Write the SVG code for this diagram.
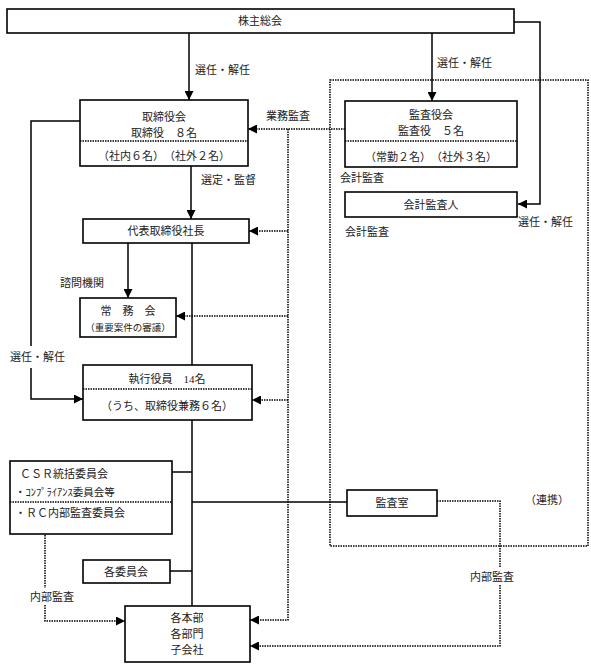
<svg xmlns="http://www.w3.org/2000/svg" width="591" height="668" viewBox="0 0 591 668">
<style>
text{font-family:"Liberation Serif","Noto Sans CJK JP",serif;font-size:11px;fill:#222}
.m{text-anchor:middle}
.s{font-size:9.5px}
.box{fill:#fff;stroke:#000;stroke-width:1.6}
.sep{stroke:#000;stroke-width:1.3;stroke-dasharray:1.5,1;fill:none}
.ln{stroke:#000;stroke-width:1.5;fill:none}
.dt{stroke:#000;stroke-width:1.5;stroke-dasharray:1.5,1;fill:none}
</style>
<defs>
<marker id="ah" viewBox="0 0 10 10" refX="10" refY="5" markerWidth="9" markerHeight="9" markerUnits="userSpaceOnUse" orient="auto"><path d="M0,0 L10,5 L0,10 z" fill="#000"/></marker>
</defs>
<rect x="330" y="80" width="258" height="466" class="dt"/>
<g id="connectors">
<path class="ln" d="M189,33 V100" marker-end="url(#ah)"/>
<path class="ln" d="M432,33 V101" marker-end="url(#ah)"/>
<path class="ln" d="M514,22 H540 V204 H518" marker-end="url(#ah)"/>
<path class="ln" d="M191,166 V219" marker-end="url(#ah)"/>
<path class="ln" d="M128,243 V298" marker-end="url(#ah)"/>
<path class="ln" d="M80,121 H31 V346"/>
<path class="ln" d="M31,368 V399 H83" marker-end="url(#ah)"/>
<path class="ln" d="M192,243 V365"/>
<path class="ln" d="M192,420 V606"/>
<path class="ln" d="M172,472 H192"/>
<path class="ln" d="M192,502 H347"/>
<path class="ln" d="M170,571 H192"/>
<path class="dt" d="M345,129 H248" marker-end="url(#ah)"/>
<path class="dt" d="M288,129 V620 H250" marker-end="url(#ah)"/>
<path class="dt" d="M288,231 H249" marker-end="url(#ah)"/>
<path class="dt" d="M288,316 H176" marker-end="url(#ah)"/>
<path class="dt" d="M288,400 H252" marker-end="url(#ah)"/>
<path class="dt" d="M45,535 V588"/>
<path class="dt" d="M45,605 V621 H125" marker-end="url(#ah)"/>
<path class="dt" d="M437,501 H500 V568"/>
<path class="dt" d="M500,585 V646 H250" marker-end="url(#ah)"/>
</g>
<g id="labels">
<text x="195" y="74">選任・解任</text>
<text x="437" y="67">選任・解任</text>
<text x="266" y="120">業務監査</text>
<text x="201" y="184">選定・監督</text>
<text x="60" y="287">諮問機関</text>
<text x="10" y="361">選任・解任</text>
<text x="340" y="182">会計監査</text>
<text x="345" y="236">会計監査</text>
<text x="518" y="226">選任・解任</text>
<text x="525" y="504">（連携）</text>
<text x="30" y="601">内部監査</text>
<text x="470" y="581">内部監査</text>
</g>
<g id="shareholders">
<rect x="7" y="9" width="507" height="24" class="box"/>
<text x="260" y="25" class="m">株主総会</text>
</g>
<g id="board">
<rect x="80" y="100" width="168" height="66" class="box"/>
<line x1="80" y1="141" x2="248" y2="141" class="sep"/>
<text x="164" y="121" class="m">取締役会</text>
<text x="164" y="137" class="m">取締役　８名</text>
<text x="164" y="160" class="m">（社内６名）　（社外２名）</text>
</g>
<g id="auditors">
<rect x="345" y="101" width="172" height="66" class="box"/>
<line x1="345" y1="141" x2="517" y2="141" class="sep"/>
<text x="431" y="119" class="m">監査役会</text>
<text x="431" y="135" class="m">監査役　５名</text>
<text x="431" y="161" class="m">（常勤２名）　（社外３名）</text>
</g>
<g id="accountant">
<rect x="345" y="192" width="172" height="25" class="box"/>
<text x="431" y="209" class="m">会計監査人</text>
</g>
<g id="president">
<rect x="83" y="219" width="166" height="24" class="box"/>
<text x="166" y="235" class="m">代表取締役社長</text>
</g>
<g id="jomukai">
<rect x="80" y="298" width="96" height="39" class="box"/>
<text x="128" y="315" class="m">常　務　会</text>
<text x="128" y="331" class="m s">（重要案件の審議）</text>
</g>
<g id="officers">
<rect x="83" y="365" width="169" height="55" class="box"/>
<line x1="83" y1="389" x2="252" y2="389" class="sep"/>
<text x="167" y="383" class="m">執行役員　14名</text>
<text x="167" y="410" class="m">（うち、取締役兼務６名）</text>
</g>
<g id="csr">
<rect x="10" y="461" width="162" height="73" class="box"/>
<line x1="10" y1="502" x2="172" y2="502" class="sep"/>
<text x="20" y="478">ＣＳＲ統括委員会</text>
<text x="15" y="496" style="font-size:10.5px">・ｺﾝﾌﾟﾗｲｱﾝｽ委員会等</text>
<text x="15" y="517">・ＲＣ内部監査委員会</text>
</g>
<g id="auditroom">
<rect x="347" y="490" width="90" height="26" class="box"/>
<text x="392" y="507" class="m">監査室</text>
</g>
<g id="committees">
<rect x="83" y="560" width="87" height="23" class="box"/>
<text x="126" y="576" class="m">各委員会</text>
</g>
<g id="divisions">
<rect x="125" y="606" width="125" height="56" class="box"/>
<text x="187" y="622" class="m">各本部</text>
<text x="187" y="638" class="m">各部門</text>
<text x="187" y="654" class="m">子会社</text>
</g>
</svg>
